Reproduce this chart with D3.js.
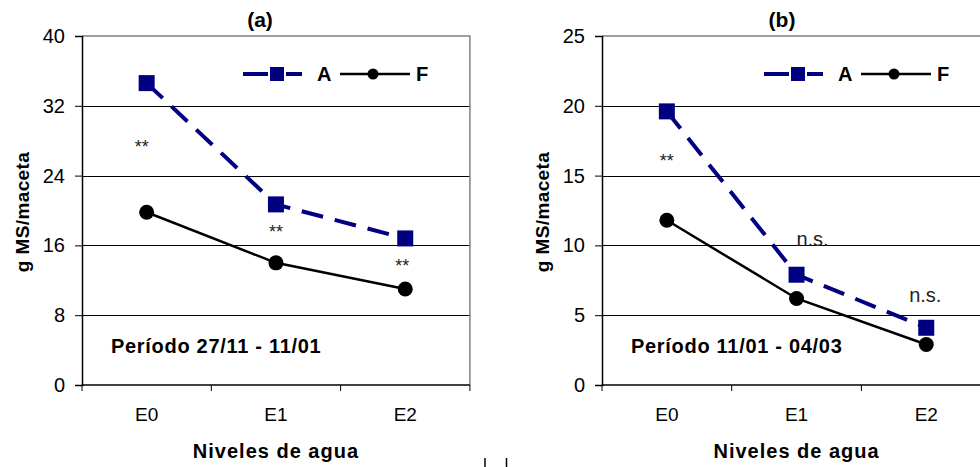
<!DOCTYPE html>
<html>
<head>
<meta charset="utf-8">
<script src="https://cdn.jsdelivr.net/npm/d3@7"></script>
<style>
  body { margin: 0; background: #fff; }
  svg { font-family: "Liberation Sans", Arial, sans-serif; }
</style>
</head>
<body>
<svg id="vis" width="980" height="467"></svg>
<script>
var niveles = ["E0", "E1", "E2"]

// panel (a) periodo 27/11 - 11/01
var aValsA = [34.6, 20.7, 16.8]
var aValsF = [19.8, 14.0, 11.0]
var aTicks = [0, 8, 16, 24, 32, 40]
var aSig = ["**", "**", "**"]

// panel (b) periodo 11/01 - 04/03
var bValsA = [19.6, 7.9, 4.1]
var bValsF = [11.8, 6.2, 2.9]
var bTicks = [0, 5, 10, 15, 20, 25]
var bSig = ["**", "n.s.", "n.s."]

var svg = d3.select("#vis")

function drawPanel(p) {
  var g = svg.append("g")

  var xScale = d3.scaleBand()
        .domain(niveles)
        .range([p.left, p.left + 3 * p.band])
  var yScale = d3.scaleLinear()
        .domain([0, d3.max(p.ticks)])
        .range([385, 36])
  var xMid = d => xScale(d) + xScale.bandwidth() / 2

  // gridlines
  g.append("g")
    .selectAll("line")
    .data(p.ticks.filter(t => t > 0 && t < d3.max(p.ticks)))
    .enter()
    .append("line")
    .attr("x1", p.left).attr("x2", p.left + 3 * p.band)
    .attr("y1", d => Math.round(yScale(d)) + 0.5).attr("y2", d => Math.round(yScale(d)) + 0.5)
    .attr("stroke", "#000").attr("stroke-width", 1)

  // top and right border (gray)
  g.append("path")
    .attr("d", `M${p.left},${yScale(d3.max(p.ticks))}H${p.left + 3 * p.band}V385`)
    .attr("fill", "none").attr("stroke", "#808080").attr("stroke-width", 1.5)

  // y axis
  var yAxis = g.append("g")
    .attr("transform", `translate(${p.left},0)`)
    .call(d3.axisLeft(yScale).tickValues(p.ticks).tickSize(7).tickPadding(10))
  yAxis.select(".domain").attr("stroke-width", 1.5)
  yAxis.selectAll("text").style("font-size", "20px").attr("fill", "#000")

  // x axis: ticks at band edges
  var xAxis = g.append("g").attr("transform", "translate(0,385)")
  xAxis.append("line")
    .attr("x1", p.left).attr("x2", p.left + 3 * p.band)
    .attr("stroke", "#000").attr("stroke-width", 1.5)
  xAxis.selectAll("line.tk")
    .data([0, 1, 2, 3])
    .enter()
    .append("line")
    .attr("class", "tk")
    .attr("x1", i => p.left + i * xScale.step())
    .attr("x2", i => p.left + i * xScale.step())
    .attr("y1", 0).attr("y2", 6)
    .attr("stroke", "#000")
  xAxis.selectAll("text")
    .data(niveles)
    .enter()
    .append("text")
    .attr("x", d => xMid(d))
    .attr("y", 36)
    .attr("text-anchor", "middle")
    .style("font-size", "19px")
    .text(d => d)

  // lines
  var lineGen = d3.line().x((d, i) => xMid(niveles[i])).y(d => yScale(d))

  g.append("path")
    .datum(p.valsF)
    .attr("d", lineGen)
    .attr("fill", "none").attr("stroke", "#000").attr("stroke-width", 2.5)

  g.append("path")
    .datum(p.valsA)
    .attr("d", lineGen)
    .attr("fill", "none").attr("stroke", "#000080").attr("stroke-width", 4)
    .attr("stroke-dasharray", "22,12")

  g.selectAll("circle.f")
    .data(p.valsF)
    .enter()
    .append("circle")
    .attr("cx", (d, i) => xMid(niveles[i]))
    .attr("cy", d => yScale(d))
    .attr("r", 7.5)
    .attr("fill", "#000")

  g.selectAll("rect.a")
    .data(p.valsA)
    .enter()
    .append("rect")
    .attr("x", (d, i) => xMid(niveles[i]) - 8)
    .attr("y", d => yScale(d) - 8)
    .attr("width", 16).attr("height", 16)
    .attr("fill", "#000080")

  // significance labels
  g.selectAll("text.sig")
    .data(p.sig)
    .enter()
    .append("text")
    .attr("x", (d, i) => xMid(niveles[i]) + p.sigDx[i])
    .attr("y", (d, i) => p.sigY[i])
    .attr("text-anchor", "middle")
    .attr("fill", "#222")
    .style("font-size", d => d == "**" ? "18px" : "20px")
    .text(d => d)

  // legend
  var lg = g.append("g").attr("transform", `translate(${p.legX},74)`)
  lg.append("line").attr("x1", 0).attr("x2", 25)
    .attr("stroke", "#000080").attr("stroke-width", 4)
  lg.append("line").attr("x1", 43).attr("x2", 59)
    .attr("stroke", "#000080").attr("stroke-width", 4)
  lg.append("rect").attr("x", 27).attr("y", -7).attr("width", 14).attr("height", 14).attr("fill", "#000080")
  lg.append("text").attr("x", 74).attr("y", 7).style("font-size", "20px").style("font-weight", "bold").text("A")
  lg.append("line").attr("x1", 97).attr("x2", 167)
    .attr("stroke", "#000").attr("stroke-width", 2.5)
  lg.append("circle").attr("cx", 130).attr("cy", 0).attr("r", 5.5).attr("fill", "#000")
  lg.append("text").attr("x", 173).attr("y", 7).style("font-size", "20px").style("font-weight", "bold").text("F")

  // periodo
  g.append("text")
    .attr("x", p.perX).attr("y", 353)
    .style("font-size", "20px").style("font-weight", "bold")
    .style("letter-spacing", "0.7px")
    .text(p.periodo)

  // title
  g.append("text")
    .attr("x", p.titleX).attr("y", 27)
    .attr("text-anchor", "middle")
    .style("font-size", "21px").style("font-weight", "bold")
    .text(p.title)

  // y label
  g.append("text")
    .attr("transform", `translate(${p.yLabX},212) rotate(-90)`)
    .attr("text-anchor", "middle")
    .style("font-size", "19px").style("font-weight", "bold")
    .style("letter-spacing", "0.4px")
    .text("g MS/maceta")

  // x label
  g.append("text")
    .attr("x", p.left + 1.5 * p.band).attr("y", 458)
    .attr("text-anchor", "middle")
    .style("font-size", "20px").style("font-weight", "bold")
    .style("letter-spacing", "1px")
    .text("Niveles de agua")
}

drawPanel({
  left: 82, band: 129.3, ticks: aTicks, valsA: aValsA, valsF: aValsF,
  sig: aSig, sigDx: [-5, 0, -3], sigY: [153, 238, 272],
  legX: 243, perX: 111, periodo: "Período 27/11 - 11/01", title: "(a)", titleX: 260, yLabX: 29
})

drawPanel({
  left: 602, band: 129.7, ticks: bTicks, valsA: bValsA, valsF: bValsF,
  sig: bSig, sigDx: [0, 16, -1], sigY: [167, 246, 302],
  legX: 764, perX: 631, periodo: "Período 11/01 - 04/03", title: "(b)", titleX: 782, yLabX: 549
})

// small marks at bottom centre
svg.append("line").attr("x1", 485).attr("x2", 485).attr("y1", 458).attr("y2", 467).attr("stroke", "#444").attr("stroke-width", 2)
svg.append("line").attr("x1", 506.5).attr("x2", 506.5).attr("y1", 458).attr("y2", 467).attr("stroke", "#000").attr("stroke-width", 1.5)
</script>
</body>
</html>
